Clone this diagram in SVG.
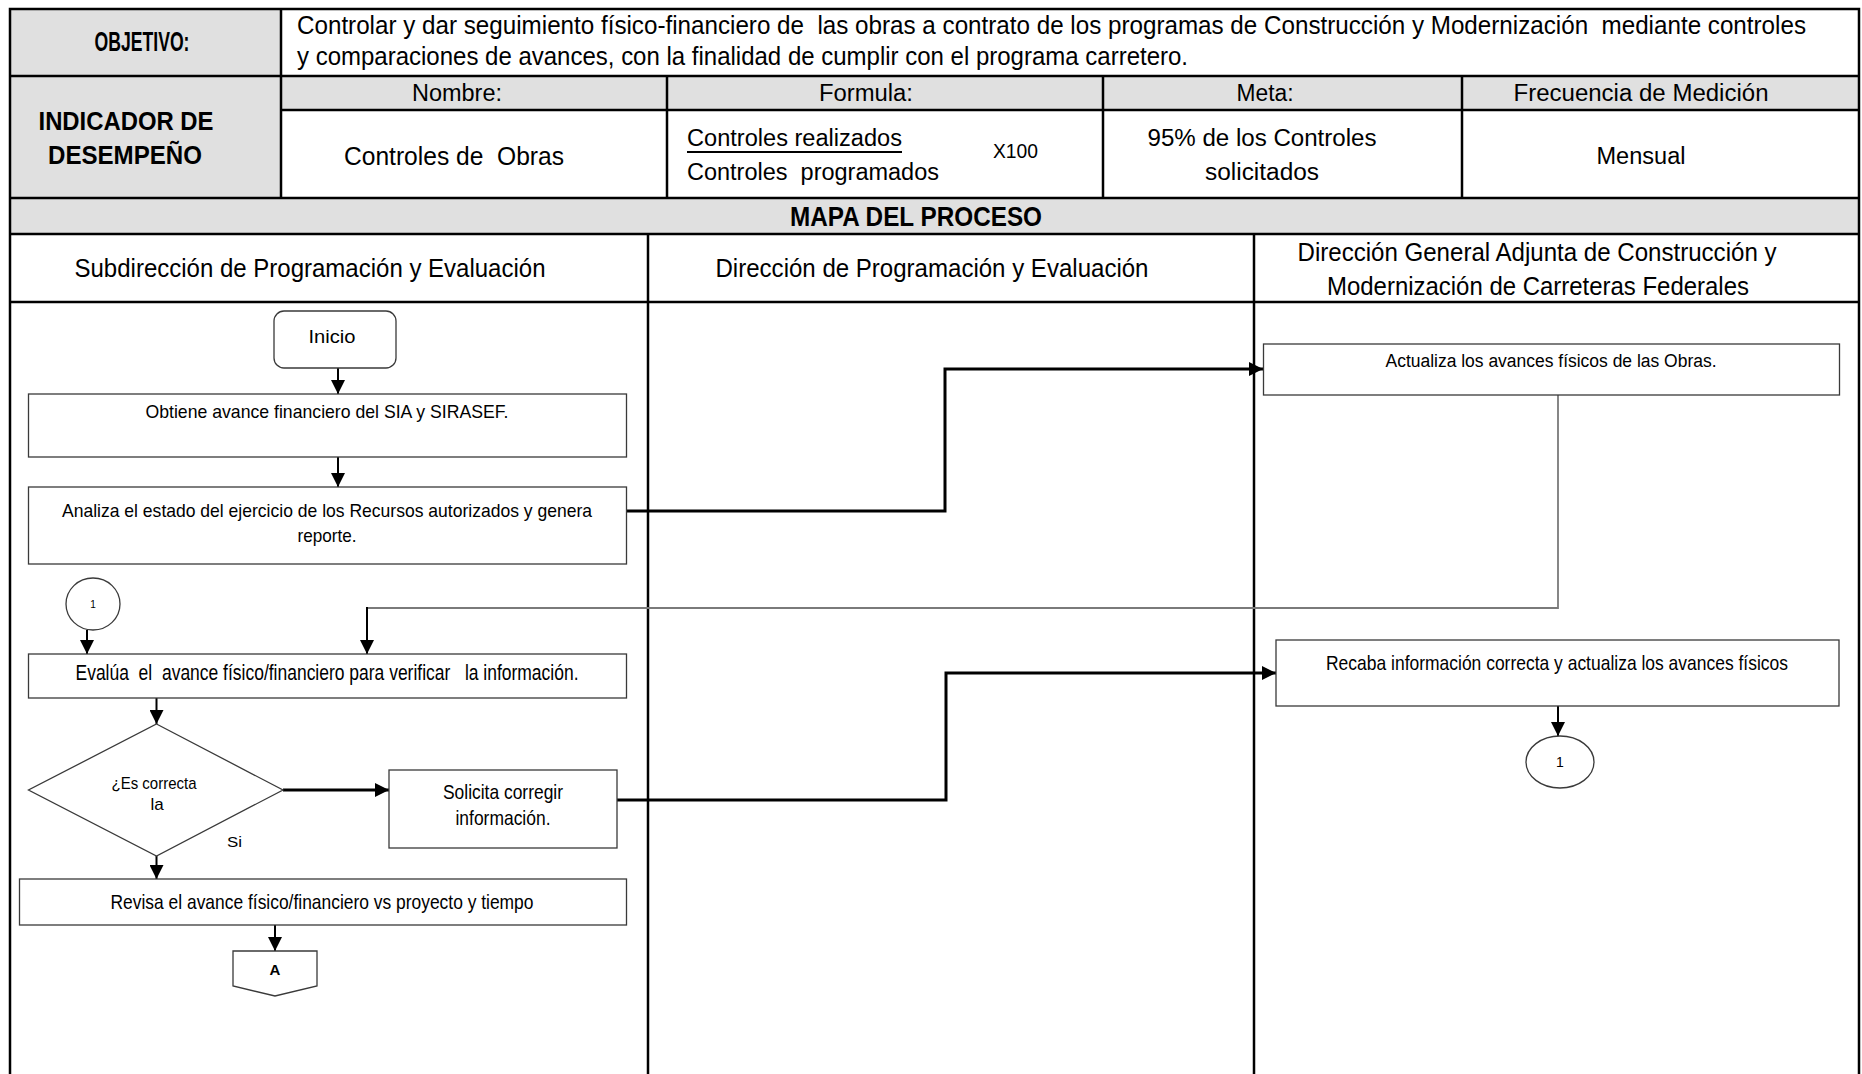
<svg xmlns="http://www.w3.org/2000/svg" width="1862" height="1074" viewBox="0 0 1862 1074">
<defs>
<style>
text{font-family:'Liberation Sans Narrow','Liberation Sans',Arial,sans-serif;fill:#000;white-space:pre}
.b{font-weight:bold}
.m{text-anchor:middle}
.grid{stroke:#000;stroke-width:2.5;fill:none}
.gray{fill:#e0e0e0}
.box{fill:#fff;stroke:#3a3a3a;stroke-width:1.3}
.thick{fill:none;stroke:#000;stroke-width:3}
.flow{fill:none;stroke:#000;stroke-width:2}
.grayline{fill:none;stroke:#7a7a7a;stroke-width:1.8}
</style>
<marker id="ah" viewBox="0 0 14 14" refX="14" refY="7" markerWidth="14" markerHeight="14" markerUnits="userSpaceOnUse" orient="auto">
<path d="M0,0 L14,7 L0,14 z" fill="#000"/>
</marker>
</defs>
<rect x="0" y="0" width="1862" height="1074" fill="#fff"/>

<g id="table">
<rect class="gray" x="10" y="9" width="271" height="189"/>
<rect class="gray" x="281" y="76" width="1578" height="34"/>
<rect class="gray" x="10" y="198" width="1849" height="36"/>
<path class="grid" d="M10,1074 V9 H1859 V1074"/>
<path class="grid" d="M10,76 H1859 M281,110 H1859 M10,198 H1859 M10,234 H1859 M10,302 H1859"/>
<path class="grid" d="M281,9 V198 M667,76 V198 M1103,76 V198 M1462,76 V198 M648,234 V1074 M1254,234 V1074"/>
<text xml:space="preserve" x="297" y="34" font-size="25" textLength="1509" lengthAdjust="spacingAndGlyphs">Controlar y dar seguimiento físico-financiero de  las obras a contrato de los programas de Construcción y Modernización  mediante controles</text>
<text x="297" y="65" font-size="25" textLength="891" lengthAdjust="spacingAndGlyphs">y comparaciones de avances, con la finalidad de cumplir con el programa carretero.</text>
<text class="b m" x="142" y="51" font-size="27" textLength="95" lengthAdjust="spacingAndGlyphs">OBJETIVO:</text>
<text class="m" x="457" y="101" font-size="23" textLength="90" lengthAdjust="spacingAndGlyphs">Nombre:</text>
<text class="m" x="866" y="101" font-size="23" textLength="94" lengthAdjust="spacingAndGlyphs">Formula:</text>
<text class="m" x="1265" y="101" font-size="23" textLength="57" lengthAdjust="spacingAndGlyphs">Meta:</text>
<text class="m" x="1641" y="101" font-size="23" textLength="255" lengthAdjust="spacingAndGlyphs">Frecuencia de Medición</text>
<text class="b m" x="126" y="130" font-size="26" textLength="175" lengthAdjust="spacingAndGlyphs">INDICADOR DE</text>
<text class="b m" x="125" y="164" font-size="26" textLength="154" lengthAdjust="spacingAndGlyphs">DESEMPEÑO</text>
<text xml:space="preserve" class="m" x="454" y="165" font-size="25" textLength="220" lengthAdjust="spacingAndGlyphs">Controles de  Obras</text>
<text x="687" y="146" font-size="23" textLength="215" lengthAdjust="spacingAndGlyphs">Controles realizados</text>
<line x1="687" y1="152" x2="902" y2="152" stroke="#000" stroke-width="2"/>
<text xml:space="preserve" x="687" y="180" font-size="23" textLength="252" lengthAdjust="spacingAndGlyphs">Controles  programados</text>
<text x="993" y="158" font-size="21" textLength="45" lengthAdjust="spacingAndGlyphs">X100</text>
<text class="m" x="1262" y="146" font-size="23" textLength="229" lengthAdjust="spacingAndGlyphs">95% de los Controles</text>
<text class="m" x="1262" y="180" font-size="23" textLength="114" lengthAdjust="spacingAndGlyphs">solicitados</text>
<text class="m" x="1641" y="164" font-size="23" textLength="89" lengthAdjust="spacingAndGlyphs">Mensual</text>
<text class="b m" x="916" y="226" font-size="27" textLength="252" lengthAdjust="spacingAndGlyphs">MAPA DEL PROCESO</text>
<text class="m" x="310" y="277" font-size="25.5" textLength="471" lengthAdjust="spacingAndGlyphs">Subdirección de Programación y Evaluación</text>
<text class="m" x="932" y="277" font-size="25.5" textLength="433" lengthAdjust="spacingAndGlyphs">Dirección de Programación y Evaluación</text>
<text class="m" x="1537" y="261" font-size="25.5" textLength="479" lengthAdjust="spacingAndGlyphs">Dirección General Adjunta de Construcción y</text>
<text class="m" x="1538" y="295" font-size="25.5" textLength="422" lengthAdjust="spacingAndGlyphs">Modernización de Carreteras Federales</text>
</g>

<g id="connectors">
<path class="flow" d="M338,368 V394" marker-end="url(#ah)"/>
<path class="flow" d="M338,457 V487" marker-end="url(#ah)"/>
<path class="thick" d="M627,511 H945 V369 H1263" marker-end="url(#ah)"/>
<path class="grayline" d="M1558,395 V608 H367"/>
<path class="flow" d="M367,607 V654" marker-end="url(#ah)"/>
<path class="flow" d="M87,630 V654" marker-end="url(#ah)"/>
<path class="flow" d="M156.5,698 V724" marker-end="url(#ah)"/>
<path class="thick" d="M283,790 H389" marker-end="url(#ah)"/>
<path class="thick" d="M617,800 H946 V673 H1276" marker-end="url(#ah)"/>
<path class="flow" d="M156.5,856 V879" marker-end="url(#ah)"/>
<path class="flow" d="M275,925 V951" marker-end="url(#ah)"/>
<path class="flow" d="M1558,706 V736" marker-end="url(#ah)"/>
</g>

<g id="inicio">
<rect class="box" x="274" y="311" width="122" height="57" rx="10"/>
<text class="m" x="332" y="343" font-size="18.5" textLength="47" lengthAdjust="spacingAndGlyphs">Inicio</text>
</g>
<g id="obtiene">
<rect class="box" x="28.5" y="394" width="598" height="63"/>
<text class="m" x="327" y="418" font-size="19" textLength="363" lengthAdjust="spacingAndGlyphs">Obtiene avance financiero del SIA y SIRASEF.</text>
</g>
<g id="analiza">
<rect class="box" x="28.5" y="487" width="598" height="77"/>
<text class="m" x="327" y="517" font-size="19" textLength="530" lengthAdjust="spacingAndGlyphs">Analiza el estado del ejercicio de los Recursos autorizados y genera</text>
<text class="m" x="327" y="542" font-size="19" textLength="59" lengthAdjust="spacingAndGlyphs">reporte.</text>
</g>
<g id="actualiza">
<rect class="box" x="1263.5" y="344" width="576" height="51"/>
<text class="m" x="1551" y="367" font-size="18" textLength="331" lengthAdjust="spacingAndGlyphs">Actualiza los avances físicos de las Obras.</text>
</g>
<g id="conector1a">
<ellipse class="box" cx="93" cy="604" rx="27" ry="26"/>
<text class="m" x="93" y="608" font-size="10">1</text>
</g>
<g id="evalua">
<rect class="box" x="28.5" y="654" width="598" height="44"/>
<text xml:space="preserve" class="m" x="327" y="680" font-size="22" textLength="503" lengthAdjust="spacingAndGlyphs">Evalúa  el  avance físico/financiero para verificar   la información.</text>
</g>
<g id="decision">
<polygon class="box" points="156.5,724 283,790 156.5,856 28.5,790"/>
<text class="m" x="154" y="789" font-size="17" textLength="85" lengthAdjust="spacingAndGlyphs">¿Es correcta</text>
<text class="m" x="157" y="810" font-size="17">la</text>
<text x="227" y="847" font-size="15" textLength="15" lengthAdjust="spacingAndGlyphs">Si</text>
</g>
<g id="solicita">
<rect class="box" x="389" y="770" width="228" height="78"/>
<text class="m" x="503" y="799" font-size="21" textLength="120" lengthAdjust="spacingAndGlyphs">Solicita corregir</text>
<text class="m" x="503" y="825" font-size="21" textLength="95" lengthAdjust="spacingAndGlyphs">información.</text>
</g>
<g id="revisa">
<rect class="box" x="19.5" y="879" width="607" height="46"/>
<text class="m" x="322" y="909" font-size="21" textLength="423" lengthAdjust="spacingAndGlyphs">Revisa el avance físico/financiero vs proyecto y tiempo</text>
</g>
<g id="conectorA">
<polygon class="box" points="233,951 317,951 317,986 275,996 233,986"/>
<text class="b m" x="275" y="975" font-size="15">A</text>
</g>
<g id="recaba">
<rect class="box" x="1276" y="640" width="563" height="66"/>
<text class="m" x="1557" y="670" font-size="21" textLength="462" lengthAdjust="spacingAndGlyphs">Recaba información correcta y actualiza los avances físicos</text>
</g>
<g id="conector1b">
<ellipse class="box" cx="1560" cy="762" rx="34" ry="26"/>
<text class="m" x="1560" y="767" font-size="14">1</text>
</g>
</svg>
